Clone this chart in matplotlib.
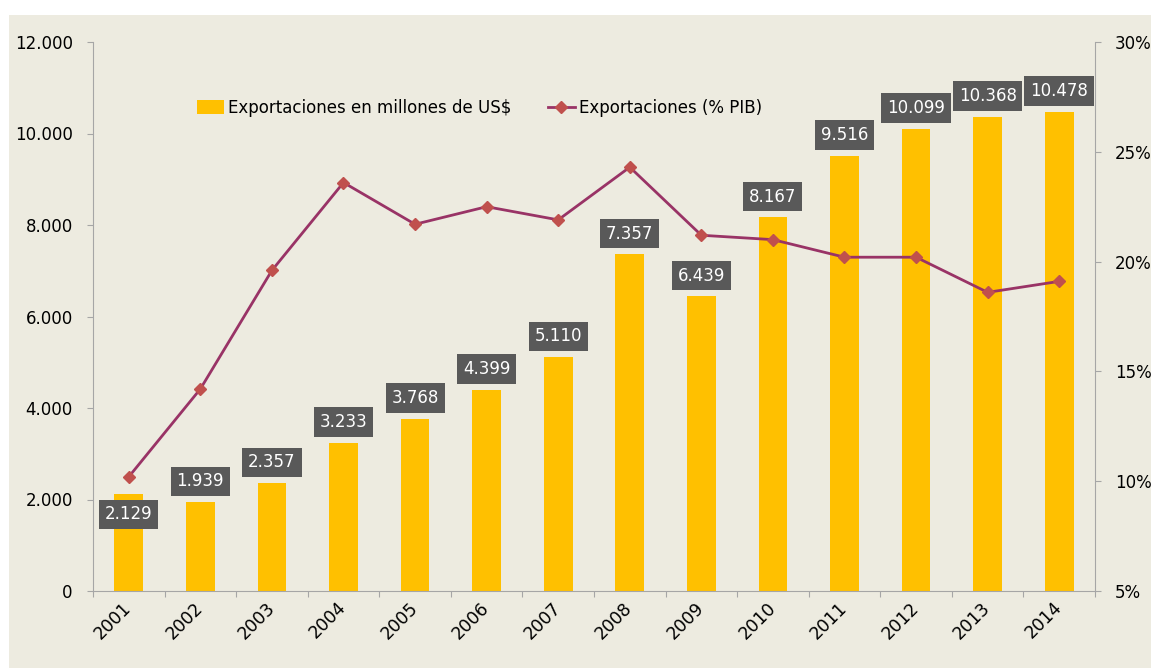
import matplotlib.pyplot as plt
from matplotlib.patches import Rectangle
from matplotlib.ticker import FuncFormatter
import numpy as np

years = ['2001', '2002', '2003', '2004', '2005', '2006', '2007',
         '2008', '2009', '2010', '2011', '2012', '2013', '2014']
exports = [2129, 1939, 2357, 3233, 3768, 4399, 5110,
           7357, 6439, 8167, 9516, 10099, 10368, 10478]
exports_pib = [10.2, 14.2, 19.6, 23.6, 21.7, 22.5, 21.9,
               24.3, 21.2, 21.0, 20.2, 20.2, 18.6, 19.1]

bg = '#EDEBE0'
bar_col = '#FFC000'
line_col = '#993366'
mark_col = '#C0504D'
spine_col = '#A6A6A6'

def miles(v):
    return f'{int(v):,}'.replace(',', '.')

fig = plt.figure(figsize=(11.51, 6.68), dpi=100, facecolor='white')
fig.patches.append(Rectangle((9/1151, 0), 1 - 9/1151, 1 - 15/668,
                             transform=fig.transFigure, facecolor=bg,
                             edgecolor='none', zorder=-10))

ax = fig.add_axes([93/1151, 1 - 591/668, (1095 - 93)/1151, (591 - 42)/668])
x = np.arange(len(years))

ax2 = ax.twinx()
ax.set_zorder(ax2.get_zorder() - 1)
ax.set_facecolor('none')
ax2.patch.set_visible(False)

bars = ax.bar(x, exports, width=0.4, color=bar_col, zorder=2,
              label='Exportaciones en millones de US$')
ax.set_xlim(-0.5, len(years) - 0.5)
ax.set_ylim(0, 12000)
ax.set_yticks(range(0, 12001, 2000))
ax.yaxis.set_major_formatter(FuncFormatter(lambda v, p: miles(v)))
ax.set_xticks(np.arange(-0.5, len(years), 1))
ax.set_xticklabels([])
ax.set_xticks(x, minor=True)
ax.set_xticklabels(years, minor=True, rotation=45, ha='right',
                   va='center', rotation_mode='anchor', fontsize=12.5)
ax.tick_params(axis='x', which='minor', length=0, pad=10)
ax.tick_params(axis='x', which='major', length=4, color=spine_col, direction='out')
ax.tick_params(axis='y', length=4, color=spine_col, pad=10.5, labelsize=12)
for s in ['top', 'right']:
    ax.spines[s].set_visible(False)
for s in ['left', 'bottom']:
    ax.spines[s].set_color(spine_col)

ax2.set_ylim(5, 30)
ax2.set_yticks(range(5, 31, 5))
ax2.yaxis.set_major_formatter(FuncFormatter(lambda v, p: f'{int(v)}%'))
ax2.tick_params(axis='y', length=4, color=spine_col, pad=10.5, labelsize=12)
for s in ['top', 'left', 'bottom']:
    ax2.spines[s].set_visible(False)
ax2.spines['right'].set_color(spine_col)
line, = ax2.plot(x, exports_pib, color=line_col, lw=2, marker='D', ms=6,
                 mfc=mark_col, mec=mark_col, zorder=3,
                 label='Exportaciones (% PIB)')

# data labels (on top of the line)
for i, v in enumerate(exports):
    dy = 15 if i > 0 else -15
    ax2.annotate(miles(v), (x[i], v), xycoords=ax.transData,
                 xytext=(0, dy), textcoords='offset points',
                 ha='center', va='center', color='white', fontsize=12, zorder=5,
                 bbox=dict(boxstyle='square,pad=0.35', fc='#595959', ec='none'))

ax2.legend([bars, line], ['Exportaciones en millones de US$', 'Exportaciones (% PIB)'],
           loc='center left', bbox_to_anchor=(0.089, 0.88), ncol=2,
           frameon=False, fontsize=12, handlelength=1.6, handleheight=0.9,
           handletextpad=0.25, columnspacing=2.2)

fig.savefig('out.png', dpi=100, facecolor=fig.get_facecolor())
